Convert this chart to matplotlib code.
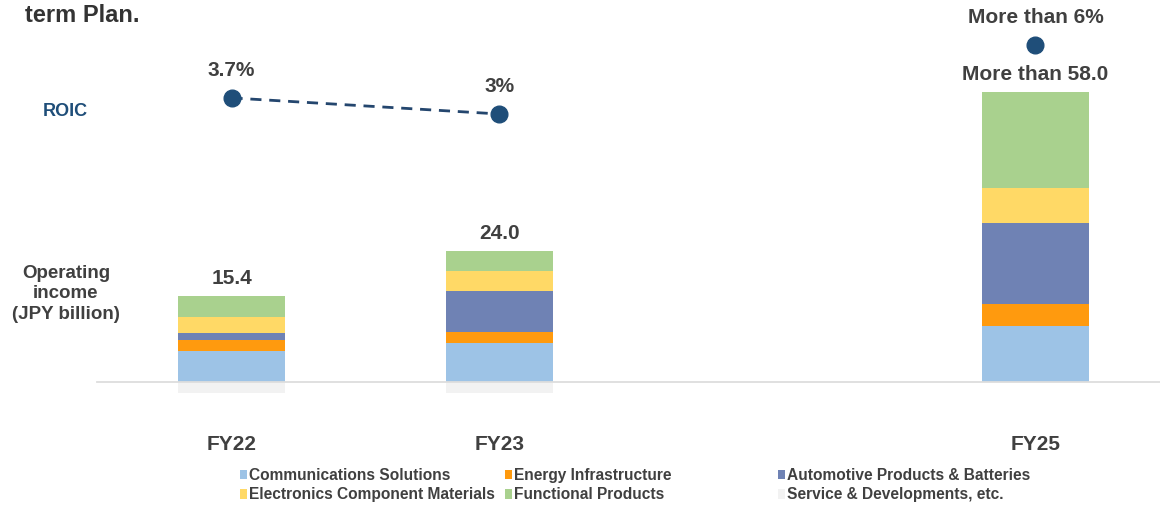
import matplotlib.pyplot as plt
from matplotlib.patches import Patch

plt.rcParams['font.family'] = ['Liberation Sans', 'DejaVu Sans']

# data
years = ["FY22", "FY23", "FY25"]
xpos = [0, 1, 3]
segments = ["Communications Solutions", "Energy Infrastructure", "Automotive Products & Batteries",
            "Electronics Component Materials", "Functional Products", "Service & Developments, etc."]
comm = [6.3, 7.9, 11.3]
energy = [2.2, 2.2, 4.4]
auto = [1.4, 8.1, 16.2]
elec = [3.2, 4.1, 7.0]
func = [4.1, 3.9, 19.1]
service = [-2.1, -2.1, 0.0]
totalLabels = ["15.4", "24.0", "More than 58.0"]
roic = [3.7, 3.0, 6.0]
roicLabels = ["3.7%", "3%", "More than 6%"]

colors = ["#9DC3E6", "#FF9A0E", "#6F82B4", "#FFD966", "#A9D18E", "#F2F2F2"]
textColor = "#404040"
roicColor = "#1F4E79"

W, H = 1160, 512
fig = plt.figure(figsize=(W/100, H/100), dpi=100)

# axes bottom sits on the baseline (y=382 px from top)
ax = fig.add_axes([0, 130/H, 1, 382/H])
ax.set_xlim(-0.864, 3.465)
ax.set_ylim(0, 76.4)
for s in ax.spines.values():
    s.set_visible(False)
ax.set_yticks([])

barWidth = 0.4
bottom = [0, 0, 0]
for name, vals, c in zip(segments[:5], [comm, energy, auto, elec, func], colors[:5]):
    ax.bar(xpos, vals, barWidth, bottom=bottom, color=c, label=name, zorder=2)
    bottom = [b+v for b, v in zip(bottom, vals)]
ax.bar(xpos, service, barWidth, color=colors[5], label=segments[5], clip_on=False, zorder=2)

ax.axhline(0, xmin=97/W, xmax=1, color="#DDDDDD", lw=1.3, zorder=3, clip_on=False)

for x, top, lab in zip(xpos, bottom, totalLabels):
    ax.annotate(lab, (x, top), xytext=(0, 12.5), textcoords="offset points",
                ha="center", va="center", fontsize=15, fontweight="bold", color=textColor)

ax.set_xticks(xpos)
ax.set_xticklabels(years, fontsize=15, fontweight="bold", color=textColor)
ax.tick_params(axis="x", length=0, pad=38)

# ROIC on its own scale
ax2 = ax.twinx()
ax2.set_ylim(-8.652, 7.957)
ax2.axis("off")
ax2.plot(xpos[:2], roic[:2], color="#24466E", lw=2, dashes=(4, 2.8), zorder=3)
ax2.plot(xpos, roic, "o", color=roicColor, markersize=12, zorder=4)
for x, v, lab in zip(xpos, roic, roicLabels):
    ax2.annotate(lab, (x, v), xytext=(0, 20), textcoords="offset points",
                 ha="center", va="center", fontsize=15, fontweight="bold", color=textColor)

fig.text(25/W, 1-16/H, "term Plan.", ha="left", va="center", fontsize=17,
         fontweight="bold", color="#333333")
fig.text(65/W, 1-111.5/H, "ROIC", ha="center", va="center", fontsize=13,
         fontweight="bold", color=roicColor)
fig.text(66/W, 1-294/H, "Operating\nincome\n(JPY billion)", ha="center", va="center",
         fontsize=13.5, fontweight="bold", color=textColor, linespacing=1.3)

# legend in three columns
handles = [Patch(facecolor=c, label=n) for n, c in zip(segments, colors)]
cols = [[0, 3], [1, 4], [2, 5]]
colX = [240, 505, 778]
for idx, x in zip(cols, colX):
    leg = fig.legend([handles[i] for i in idx], [segments[i] for i in idx],
                     loc="upper left", bbox_to_anchor=(x/W, 1-468/H), frameon=False,
                     fontsize=11.2, handlelength=0.45, handleheight=0.6, handletextpad=0.15,
                     labelspacing=0.28, borderpad=0, borderaxespad=0)
    for t in leg.get_texts():
        t.set_fontweight("bold")
        t.set_color(textColor)

fig.savefig("out.png", dpi=100)
